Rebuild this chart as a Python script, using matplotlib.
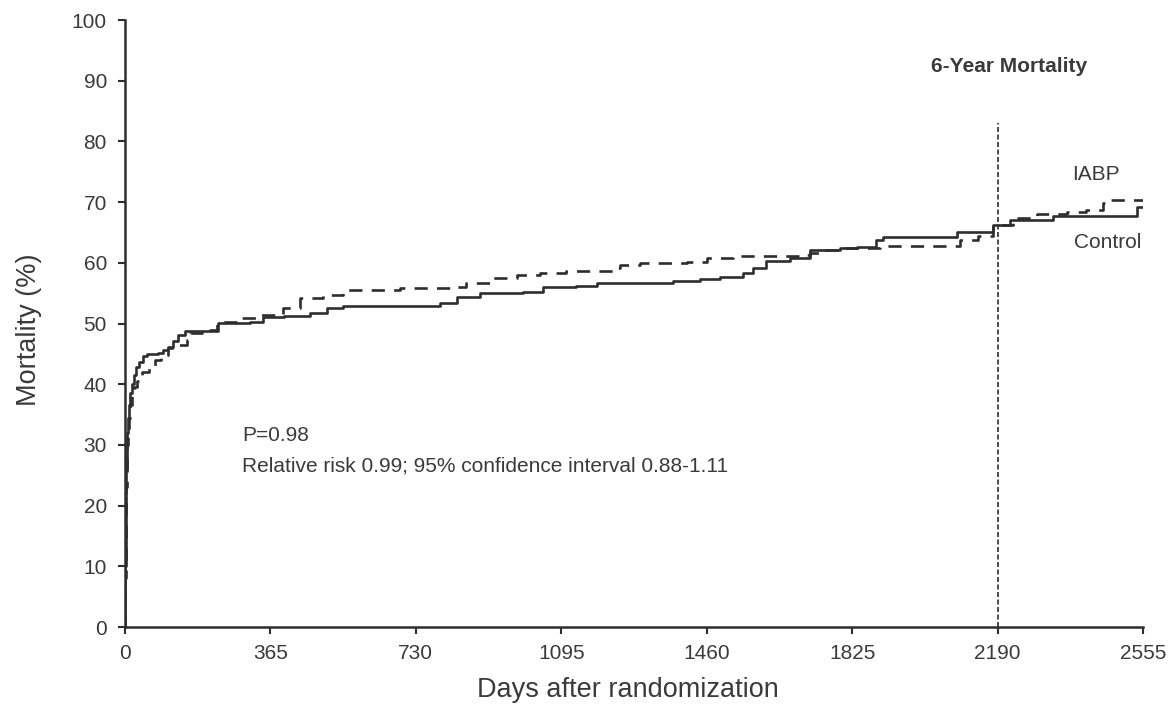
import matplotlib
matplotlib.use("Agg")
import matplotlib.pyplot as plt

# Kaplan-Meier style mortality curves
control_days = [0, 1, 2, 3, 4, 6, 8, 10, 13, 17, 22, 28, 35, 45, 55, 83, 95, 108, 120, 133,
                150, 218, 233, 313, 346, 400, 464, 506, 547, 760, 790, 833, 890, 1000, 1049,
                1133, 1184, 1360, 1375, 1443, 1493, 1550, 1576, 1610, 1668, 1718, 1794, 1836,
                1886, 1902, 2082, 2087, 2165, 2178, 2220, 2328, 2534, 2541, 2555]
control_mort = [0, 10, 20, 26, 29, 32, 34.5, 36.5, 38.5, 40, 41.5, 42.8, 43.6, 44.6, 44.9,
                45.1, 45.6, 46.1, 47.2, 48.1, 48.8, 48.8, 50.1, 50.2, 51, 51.3, 51.7, 52.5,
                52.9, 52.9, 53.4, 54.4, 55, 55.2, 56, 56.2, 56.7, 56.7, 57, 57.3, 57.7, 58.3,
                59.1, 60.3, 60.8, 62.1, 62.4, 62.6, 63.8, 64.2, 64.2, 65.1, 65.1, 66.2, 67,
                67.7, 67.7, 69.2, 69.2]

iabp_days = [0, 1, 2, 3, 4, 6, 8, 10, 13, 17, 22, 30, 43, 60, 75, 90, 108, 130, 155, 163,
             213, 230, 288, 339, 397, 439, 497, 547, 690, 815, 857, 923, 983, 1041, 1108,
             1234, 1242, 1292, 1410, 1460, 1525, 1693, 1720, 1743, 1794, 1894, 2070, 2095,
             2140, 2178, 2228, 2288, 2363, 2413, 2454, 2459, 2555]
iabp_mort = [0, 8, 17, 23, 27, 30, 32.5, 34.5, 36.5, 38, 39.5, 40.5, 42, 43, 44, 44.8, 46,
             46.5, 47.3, 48.4, 48.9, 50.2, 50.9, 51.4, 52.5, 54.2, 54.7, 55.5, 55.8, 56,
             56.7, 57.5, 58, 58.3, 58.6, 59.1, 59.6, 60, 60.2, 60.8, 61.1, 61.3, 61.6, 62.1,
             62.4, 62.8, 62.8, 63.8, 64.5, 66.2, 67.4, 68, 68.4, 68.7, 69.8, 70.3, 70.3]

x_ticks = [0, 365, 730, 1095, 1460, 1825, 2190, 2555]
y_ticks = list(range(0, 101, 10))
cutoff_day = 2190

ink = "#2e2e2e"
txt = "#3a3a3a"
plt.rcParams["font.family"] = ["Liberation Sans", "DejaVu Sans"]

fig = plt.figure(figsize=(11.71, 7.05), dpi=100)
ax = fig.add_axes([0.1067, 0.1106, 0.8694, 0.861])

ax.plot(control_days, control_mort, drawstyle="steps-post", color=ink, lw=1.9)
ax.plot(iabp_days, iabp_mort, drawstyle="steps-post", color=ink, lw=1.9,
        linestyle=(0, (5, 3.5)))
ax.plot([cutoff_day, cutoff_day], [0, 83], color=ink, lw=1.2, linestyle=(0, (3, 1.5)))

ax.set_xlim(0, 2555)
ax.set_ylim(0, 100)
ax.set_xticks(x_ticks)
ax.set_yticks(y_ticks)
for s in ("top", "right"):
    ax.spines[s].set_visible(False)
for s in ("left", "bottom"):
    ax.spines[s].set_color(ink)
    ax.spines[s].set_linewidth(1.8)
ax.tick_params(colors=ink, labelcolor=txt, labelsize=15, width=1.5, length=5)
ax.tick_params(axis="x", pad=7)
ax.tick_params(axis="y", pad=8)

ax.set_xlabel("Days after randomization", fontsize=19.5, color=txt)
ax.set_ylabel("Mortality (%)", fontsize=19.5, color=txt)
ax.xaxis.set_label_coords(0.494, -0.082)
ax.yaxis.set_label_coords(-0.081, 0.49)

ax.text(2218, 92.3, "6-Year Mortality", fontsize=15, fontweight="bold", color=txt,
        ha="center", va="center")
ax.text(2378, 74.6, "IABP", fontsize=15, color=txt, ha="left", va="center")
ax.text(2383, 63.3, "Control", fontsize=15, color=txt, ha="left", va="center")
ax.text(295, 31.6, "P=0.98", fontsize=15, color=txt, ha="left", va="center")
ax.text(295, 26.6, "Relative risk 0.99; 95% confidence interval 0.88-1.11", fontsize=15,
        color=txt, ha="left", va="center")

fig.savefig("out.png", dpi=100)
